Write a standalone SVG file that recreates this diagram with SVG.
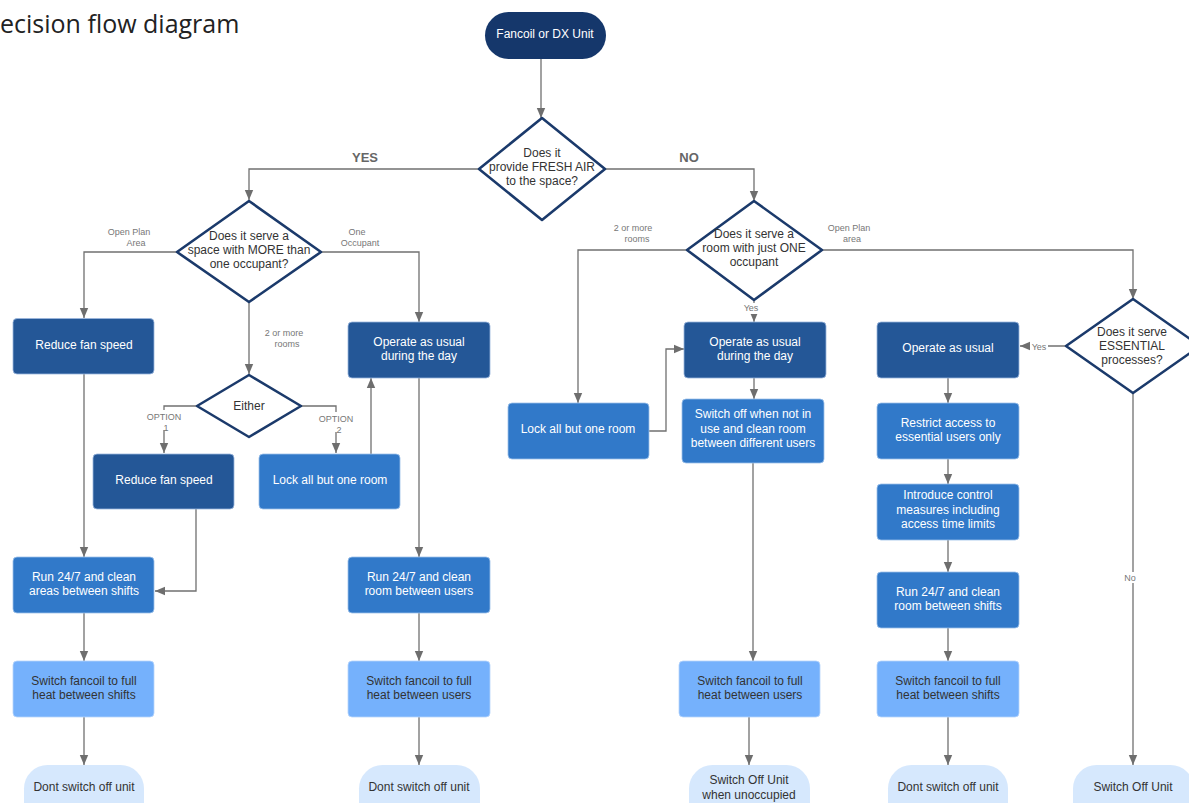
<svg xmlns="http://www.w3.org/2000/svg" width="1189" height="803" viewBox="0 0 1189 803">
<defs>
<marker id="ah" markerUnits="userSpaceOnUse" markerWidth="10" markerHeight="10" viewBox="0 0 10 10" refX="10" refY="5" orient="auto">
<path d="M0,0.8 L10,5 L0,9.2 Z" fill="#6e6e6e"/>
</marker>
<style>
text{font-family:"Liberation Sans",Arial,sans-serif;text-anchor:middle}
.t{font-size:12px}
.w{fill:#ffffff}
.k{fill:#333333}
.lbl{font-size:9px;fill:#777777}
.big{font-size:13px;fill:#666666;font-weight:bold}
.dark{fill:#245797;stroke:#9ab6dd;stroke-width:0.8}
.mid{fill:#3179c9;stroke:#9cc0ea;stroke-width:0.8}
.light{fill:#75b1fc;stroke:#b6d4fb;stroke-width:0.8}
.term{fill:#d6e8fd}
.navy{fill:#15376b}
.dia{fill:#ffffff;stroke:#1b3a6b;stroke-width:2.6;stroke-linejoin:round}
.c{fill:none;stroke:#707070;stroke-width:1.3}
.ca{fill:none;stroke:#707070;stroke-width:1.3;marker-end:url(#ah)}
.lb{fill:#ffffff}
</style>
</defs>
<rect width="1189" height="803" fill="#ffffff"/>
<text x="0" y="33" style="font-family:'Open Sans','Liberation Sans',sans-serif;font-size:25px;text-anchor:start;fill:#222222">ecision flow diagram</text>

<g id="connectors">
<path class="ca" d="M541,59 V118"/>
<path class="ca" d="M479,169 H249 V200"/>
<path class="ca" d="M605,169 H754 V201"/>
<path class="ca" d="M177,252 H84 V318"/>
<path class="ca" d="M321,252 H419 V322"/>
<path class="ca" d="M249,302 V374"/>
<path class="ca" d="M197,406 H164 V453"/>
<path class="ca" d="M301,406 H336 V453"/>
<path class="ca" d="M371,454 V378"/>
<path class="ca" d="M84,374 V557"/>
<path class="ca" d="M196,509 V591 H155"/>
<path class="ca" d="M84,613 V661"/>
<path class="ca" d="M84,717 V765"/>
<path class="ca" d="M419,378 V557"/>
<path class="ca" d="M419,613 V661"/>
<path class="ca" d="M419,717 V765"/>
<path class="ca" d="M687,250 H578 V403"/>
<path class="ca" d="M822,250 H1133 V299"/>
<path class="ca" d="M754,300 V322"/>
<path class="ca" d="M649,431 H666 V349 H684"/>
<path class="ca" d="M754,378 V399"/>
<path class="ca" d="M753,463 V661"/>
<path class="ca" d="M749,717 V765"/>
<path class="ca" d="M1066,346 H1020"/>
<path class="ca" d="M1133,393 V765"/>
<path class="ca" d="M948,378 V403"/>
<path class="ca" d="M948,459 V484"/>
<path class="ca" d="M948,540 V572"/>
<path class="ca" d="M948,628 V661"/>
<path class="ca" d="M948,717 V765"/>
<text class="big" x="365" y="162">YES</text>
<text class="big" x="689" y="162">NO</text>
<text class="lbl" x="129" y="235">Open Plan</text>
<text class="lbl" x="136" y="246">Area</text>
<text class="lbl" x="357" y="235">One</text>
<text class="lbl" x="360" y="246">Occupant</text>
<text class="lbl" x="284" y="336">2 or more</text>
<text class="lbl" x="287" y="347">rooms</text>
<rect class="lb" x="144" y="410" width="40" height="20"/>
<text class="lbl" x="164" y="420">OPTION</text>
<text class="lbl" x="166" y="431">1</text>
<rect class="lb" x="316" y="412" width="40" height="20"/>
<text class="lbl" x="336" y="422">OPTION</text>
<text class="lbl" x="339" y="433">2</text>
<text class="lbl" x="633" y="231">2 or more</text>
<text class="lbl" x="637" y="242">rooms</text>
<text class="lbl" x="849" y="231">Open Plan</text>
<text class="lbl" x="852" y="242">area</text>
<rect class="lb" x="741" y="303" width="20" height="11"/>
<text class="lbl" x="751" y="311">Yes</text>
<rect class="lb" x="1030" y="341" width="18" height="11"/>
<text class="lbl" x="1039" y="350">Yes</text>
<rect class="lb" x="1122" y="572" width="18" height="11"/>
<text class="lbl" x="1130" y="581">No</text>
</g>

<g id="n-start">
<rect class="navy" x="485" y="12" width="121" height="47" rx="23.5"/>
<text class="t w" x="545" y="38">Fancoil or DX Unit</text>
</g>
<g id="n-freshair">
<path class="dia" d="M542,118 L605,169 L542,220 L479,169 Z"/>
<text class="t k" x="542" y="157">Does it</text>
<text class="t k" x="542" y="171">provide FRESH AIR</text>
<text class="t k" x="542" y="185">to the space?</text>
</g>
<g id="n-more">
<path class="dia" d="M249,201 L321,252 L249,302 L177,252 Z"/>
<text class="t k" x="249" y="240">Does it serve a</text>
<text class="t k" x="249" y="254">space with MORE than</text>
<text class="t k" x="249" y="268">one occupant?</text>
</g>
<g id="n-one">
<path class="dia" d="M754,201 L822,250 L754,300 L687,250 Z"/>
<text class="t k" x="754" y="238">Does it serve a</text>
<text class="t k" x="754" y="252">room with just ONE</text>
<text class="t k" x="754" y="266">occupant</text>
</g>
<g id="n-essential">
<path class="dia" d="M1133,299 L1200,346 L1133,393 L1066,346 Z"/>
<text class="t k" x="1132" y="336">Does it serve</text>
<text class="t k" x="1132" y="350">ESSENTIAL</text>
<text class="t k" x="1132" y="364">processes?</text>
</g>
<g id="n-either">
<path class="dia" d="M249,375 L301,406 L249,437 L197,406 Z"/>
<text class="t k" x="249" y="410">Either</text>
</g>

<g id="n-reduce1">
<rect class="dark" x="13" y="318.5" width="141" height="55.5" rx="4"/>
<text class="t w" x="84" y="349">Reduce fan speed</text>
</g>
<g id="n-reduce2">
<rect class="dark" x="93" y="454" width="141" height="55" rx="4"/>
<text class="t w" x="164" y="484">Reduce fan speed</text>
</g>
<g id="n-lock1">
<rect class="mid" x="259" y="454" width="141" height="55" rx="4"/>
<text class="t w" x="330" y="484">Lock all but one room</text>
</g>
<g id="n-operate1">
<rect class="dark" x="348" y="322" width="142" height="56" rx="4"/>
<text class="t w" x="419" y="346">Operate as usual</text>
<text class="t w" x="419" y="360">during the day</text>
</g>
<g id="n-run1">
<rect class="mid" x="13" y="557" width="141" height="56" rx="4"/>
<text class="t w" x="84" y="581">Run 24/7 and clean</text>
<text class="t w" x="84" y="595">areas between shifts</text>
</g>
<g id="n-run2">
<rect class="mid" x="348" y="557" width="142" height="56" rx="4"/>
<text class="t w" x="419" y="581">Run 24/7 and clean</text>
<text class="t w" x="419" y="595">room between users</text>
</g>
<g id="n-heat1">
<rect class="light" x="13" y="661" width="141" height="56" rx="4"/>
<text class="t k" x="84" y="685">Switch fancoil to full</text>
<text class="t k" x="84" y="699">heat between shifts</text>
</g>
<g id="n-heat2">
<rect class="light" x="348" y="661" width="142" height="56" rx="4"/>
<text class="t k" x="419" y="685">Switch fancoil to full</text>
<text class="t k" x="419" y="699">heat between users</text>
</g>
<g id="n-end1">
<rect class="term" x="24" y="765" width="120" height="60" rx="23.5"/>
<text class="t k" x="84" y="791">Dont switch off unit</text>
</g>
<g id="n-end2">
<rect class="term" x="359" y="765" width="121" height="60" rx="23.5"/>
<text class="t k" x="419" y="791">Dont switch off unit</text>
</g>

<g id="n-lock2">
<rect class="mid" x="508" y="403" width="141" height="56" rx="4"/>
<text class="t w" x="578" y="433">Lock all but one room</text>
</g>
<g id="n-operate2">
<rect class="dark" x="684" y="322" width="142" height="56" rx="4"/>
<text class="t w" x="755" y="346">Operate as usual</text>
<text class="t w" x="755" y="360">during the day</text>
</g>
<g id="n-switchoff">
<rect class="mid" x="682" y="399" width="142" height="64" rx="4"/>
<text class="t w" x="753" y="418">Switch off when not in</text>
<text class="t w" x="753" y="433">use and clean room</text>
<text class="t w" x="753" y="447">between different users</text>
</g>
<g id="n-heat3">
<rect class="light" x="679" y="661" width="141" height="56" rx="4"/>
<text class="t k" x="750" y="685">Switch fancoil to full</text>
<text class="t k" x="750" y="699">heat between users</text>
</g>
<g id="n-end3">
<rect class="term" x="689" y="765" width="121" height="60" rx="23.5"/>
<text class="t k" x="749" y="784">Switch Off Unit</text>
<text class="t k" x="749" y="799">when unoccupied</text>
</g>

<g id="n-operate3">
<rect class="dark" x="877" y="322" width="142" height="56" rx="4"/>
<text class="t w" x="948" y="352">Operate as usual</text>
</g>
<g id="n-restrict">
<rect class="mid" x="877" y="403" width="142" height="56" rx="4"/>
<text class="t w" x="948" y="427">Restrict access to</text>
<text class="t w" x="948" y="441">essential users only</text>
</g>
<g id="n-control">
<rect class="mid" x="877" y="484" width="142" height="56" rx="4"/>
<text class="t w" x="948" y="499">Introduce control</text>
<text class="t w" x="948" y="514">measures including</text>
<text class="t w" x="948" y="528">access time limits</text>
</g>
<g id="n-run3">
<rect class="mid" x="877" y="572" width="142" height="56" rx="4"/>
<text class="t w" x="948" y="596">Run 24/7 and clean</text>
<text class="t w" x="948" y="610">room between shifts</text>
</g>
<g id="n-heat4">
<rect class="light" x="877" y="661" width="142" height="56" rx="4"/>
<text class="t k" x="948" y="685">Switch fancoil to full</text>
<text class="t k" x="948" y="699">heat between shifts</text>
</g>
<g id="n-end4">
<rect class="term" x="888" y="765" width="120" height="60" rx="23.5"/>
<text class="t k" x="948" y="791">Dont switch off unit</text>
</g>
<g id="n-end5">
<rect class="term" x="1073" y="765" width="121" height="60" rx="23.5"/>
<text class="t k" x="1133" y="791">Switch Off Unit</text>
</g>
</svg>
